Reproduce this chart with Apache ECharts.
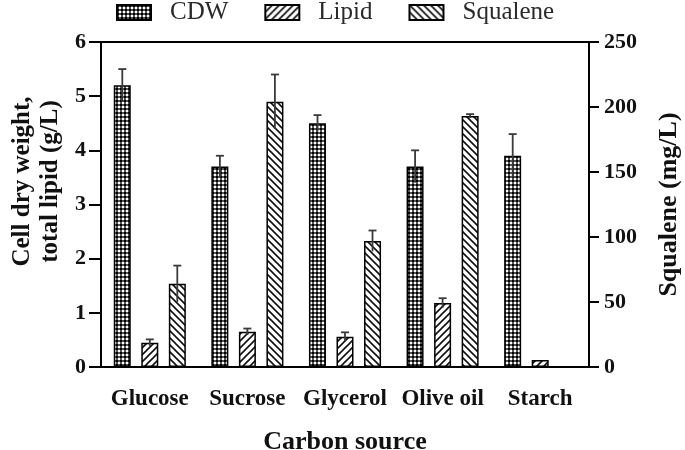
<!DOCTYPE html>
<html>
<head>
<meta charset="utf-8">
<script src="https://cdn.jsdelivr.net/npm/echarts@6/dist/echarts.min.js"></script>
<style>html,body{margin:0;padding:0;background:#fff}#c{width:685px;height:450px}</style>
</head>
<body>
<div id="c"></div>
<script>
var categories = ['Glucose', 'Sucrose', 'Glycerol', 'Olive oil', 'Starch'];
var cdw = [5.2, 3.7, 4.5, 3.7, 3.9];
var cdwErr = [0.3, 0.2, 0.15, 0.3, 0.4];
var lipid = [0.45, 0.65, 0.56, 1.18, 0.13];
var lipidErr = [0.06, 0.06, 0.08, 0.09, 0];
var squalene = [64, 204, 97, 193, 0];
var squaleneErr = [14, 21, 8, 1.5, 0];
var leftTicks = [0, 1, 2, 3, 4, 5, 6];
var rightTicks = [0, 50, 100, 150, 200, 250];

var FONT = '"Liberation Serif", "Times New Roman", serif';

function makePattern(type) {
  var s = type === 'checker' ? 4 : 7;
  var cv = document.createElement('canvas');
  cv.width = s; cv.height = s;
  var ctx = cv.getContext('2d');
  ctx.fillStyle = '#fff';
  ctx.fillRect(0, 0, s, s);
  if (type === 'checker') {
    ctx.fillStyle = '#555';
    ctx.fillRect(0, 0, s, s);
    ctx.fillStyle = '#000';
    ctx.fillRect(0, 0, 2, 2);
    ctx.fillStyle = '#fff';
    ctx.fillRect(2, 2, 2, 2);
  } else {
    ctx.strokeStyle = '#111';
    ctx.lineWidth = 1.6;
    ctx.beginPath();
    if (type === 'slash') {
      ctx.moveTo(-1, s + 1); ctx.lineTo(s + 1, -1);
      ctx.moveTo(-1, 1); ctx.lineTo(1, -1);
      ctx.moveTo(s - 1, s + 1); ctx.lineTo(s + 1, s - 1);
    } else {
      ctx.moveTo(-1, -1); ctx.lineTo(s + 1, s + 1);
      ctx.moveTo(s - 1, -1); ctx.lineTo(s + 1, 1);
      ctx.moveTo(-1, s - 1); ctx.lineTo(1, s + 1);
    }
    ctx.stroke();
  }
  return { image: cv, repeat: 'repeat' };
}

var BAR_W = 17;
var OFFSET = 27.5;

function errSeries(vals, errs, offset, yIdx) {
  var data = vals.map(function (v, i) { return [i, v, errs[i]]; });
  return {
    type: 'custom',
    yAxisIndex: yIdx,
    silent: true,
    z: 10,
    legendHoverLink: false,
    renderItem: function (params, api) {
      var i = api.value(0), v = api.value(1), e = api.value(2);
      if (!e) return;
      var top = api.coord([i, v + e]);
      var bot = api.coord([i, v - e]);
      var x = top[0] + offset;
      var style = { stroke: '#3a3a3a', lineWidth: 1.8 };
      return {
        type: 'group',
        children: [
          { type: 'line', shape: { x1: x, y1: top[1], x2: x, y2: bot[1] }, style: style },
          { type: 'line', shape: { x1: x - 4, y1: top[1], x2: x + 4, y2: top[1] }, style: style }
        ]
      };
    },
    data: data
  };
}

function barSeries(name, vals, pattern, yIdx) {
  return {
    name: name,
    type: 'bar',
    yAxisIndex: yIdx,
    barWidth: BAR_W,
    barGap: '62%',
    data: vals,
    itemStyle: { color: makePattern(pattern), borderColor: '#000', borderWidth: 1.5 }
  };
}

var chart = echarts.init(document.getElementById('c'), null, { renderer: 'canvas' });
chart.setOption({
  animation: false,
  backgroundColor: '#fff',
  legend: {
    left: 111, top: -5,
    itemWidth: 34, itemHeight: 15, itemGap: 36,
    icon: 'rect',
    data: ['CDW', 'Lipid', 'Squalene'],
    textStyle: { fontFamily: FONT, fontSize: 25, color: '#2a2a2a', padding: [0, 0, 0, 14] }
  },
  grid: { left: 101, right: 96, top: 42, bottom: 83, containLabel: false, outerBoundsMode: 'none',
    show: true, borderColor: '#000', borderWidth: 2, backgroundColor: 'transparent' },
  xAxis: {
    type: 'category',
    data: categories,
    axisLine: { lineStyle: { color: '#000', width: 2 } },
    axisTick: { alignWithLabel: true, length: 13, lineStyle: { color: '#000', width: 2 } },
    axisLabel: { margin: 21, fontFamily: FONT, fontSize: 23, fontWeight: 'bold', color: '#111', interval: 0 },
    name: 'Carbon source',
    nameLocation: 'middle',
    nameGap: 62,
    nameTextStyle: { fontFamily: FONT, fontSize: 26, fontWeight: 'bold', color: '#111' }
  },
  yAxis: [{
    type: 'value', min: 0, max: 6, interval: 1,
    axisLine: { show: true, lineStyle: { color: '#000', width: 2 } },
    axisTick: { show: true, length: 12, lineStyle: { color: '#000', width: 2 } },
    splitLine: { show: false },
    axisLabel: { margin: 15, fontFamily: FONT, fontSize: 22, fontWeight: 'bold', color: '#111',
      formatter: function (v) { return leftTicks.indexOf(v) >= 0 ? String(v) : ''; } },
    name: 'Cell dry weight,\ntotal lipid (g/L)',
    nameLocation: 'middle',
    nameGap: 36,
    nameRotate: 90,
    nameTextStyle: { fontFamily: FONT, fontSize: 25, fontWeight: 'bold', color: '#111', lineHeight: 28,
      padding: [0, 0, 0, 46] }
  }, {
    type: 'value', min: 0, max: 250, interval: 50, position: 'right',
    axisLine: { show: true, lineStyle: { color: '#000', width: 2 } },
    axisTick: { show: true, length: 10, lineStyle: { color: '#000', width: 2 } },
    splitLine: { show: false },
    axisLabel: { margin: 15, fontFamily: FONT, fontSize: 22, fontWeight: 'bold', color: '#111',
      formatter: function (v) { return rightTicks.indexOf(v) >= 0 ? String(v) : ''; } },
    name: 'Squalene (mg/L)',
    nameLocation: 'middle',
    nameGap: 67,
    nameRotate: 90,
    nameTextStyle: { fontFamily: FONT, fontSize: 26, fontWeight: 'bold', color: '#111' }
  }],
  series: [
    barSeries('CDW', cdw, 'checker', 0),
    barSeries('Lipid', lipid, 'slash', 0),
    barSeries('Squalene', squalene, 'backslash', 1),
    errSeries(cdw, cdwErr, -OFFSET, 0),
    errSeries(lipid, lipidErr, 0, 0),
    errSeries(squalene, squaleneErr, OFFSET, 1)
  ]
});
</script>
</body>
</html>
